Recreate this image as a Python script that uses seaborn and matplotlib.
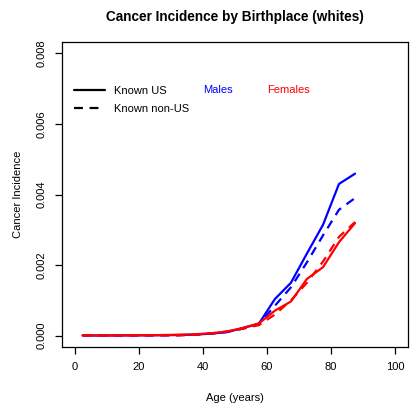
import numpy as np
import pandas as pd
import matplotlib
matplotlib.use("Agg")
import matplotlib.pyplot as plt
import seaborn as sns
from matplotlib.lines import Line2D

ages = [2.5, 7.5, 12.5, 17.5, 22.5, 27.5, 32.5, 37.5, 42.5, 47.5,
        52.5, 57.5, 62.5, 67.5, 72.5, 77.5, 82.5, 87.5]
us_males = [0.00001, 0.000005, 0.000008, 0.00001, 0.000012, 0.000015, 0.00002, 0.00003,
            0.00006, 0.0001, 0.00022, 0.00034, 0.00104, 0.0015, 0.00233, 0.00314, 0.0043, 0.00459]
nonus_males = [0.000008, 0.000005, 0.000006, 0.000008, 0.00001, 0.000012, 0.000015, 0.00003,
               0.00006, 0.00011, 0.0002, 0.00033, 0.00085, 0.00137, 0.00208, 0.00284, 0.00357, 0.0039]
us_females = [0.00001, 0.000006, 0.000008, 0.00001, 0.000015, 0.00002, 0.00003, 0.00004,
              0.00007, 0.00012, 0.00022, 0.00035, 0.00071, 0.00097, 0.00161, 0.00194, 0.00265, 0.00319]
nonus_females = [0.000008, 0.000005, 0.000006, 0.000008, 0.00001, 0.000012, 0.000012, 0.00003,
                 0.00006, 0.00012, 0.0002, 0.0003, 0.0006, 0.001, 0.0015, 0.0021, 0.0028, 0.00322]

x_ticks = [0, 20, 40, 60, 80, 100]
y_ticks = [0.000, 0.002, 0.004, 0.006, 0.008]

rows = []
for sex, birth, vals in [("Males", "Known US", us_males), ("Males", "Known non-US", nonus_males),
                         ("Females", "Known US", us_females), ("Females", "Known non-US", nonus_females)]:
    for a, v in zip(ages, vals):
        rows.append({"Age": a, "Incidence": v, "Sex": sex, "Birth": birth})
df = pd.DataFrame(rows)

sns.set_theme(style="ticks")
plt.rcParams['font.family'] = ['Liberation Sans', 'DejaVu Sans']
plt.rcParams['text.color'] = 'black'
plt.rcParams['axes.labelcolor'] = 'black'

fig = plt.figure(figsize=(4.12, 4.04), dpi=100)
ax = fig.add_axes([0.150, 0.141, 0.840, 0.755])

sns.lineplot(data=df, x="Age", y="Incidence", hue="Sex", style="Birth",
             palette={"Males": "#0000FF", "Females": "#FF0000"},
             dashes={"Known US": "", "Known non-US": (4, 3)},
             hue_order=["Males", "Females"], style_order=["Known US", "Known non-US"],
             linewidth=1.6, ax=ax, legend=False, estimator=None)

ax.set_xlim(-4, 104)
ax.set_ylim(-0.00032, 0.00832)
ax.set_xticks(x_ticks)
ax.set_xticklabels([str(t) for t in x_ticks])
ax.set_yticks(y_ticks)
ax.set_yticklabels([f"{t:.3f}" for t in y_ticks], rotation=90, va="center")
for s in ax.spines.values():
    s.set_color("black")
    s.set_linewidth(0.9)
ax.tick_params(direction="out", length=5, width=0.9, colors="black", labelcolor="black",
               labelsize=8, pad=6)
ax.set_xlabel("Age (years)", fontsize=8, labelpad=15, color="black")
ax.set_ylabel("Cancer Incidence", fontsize=8, labelpad=10, color="black")
ax.set_title("Cancer Incidence by Birthplace (whites)", fontsize=9.8, fontweight="bold",
             pad=15, color="black")

handles = [Line2D([], [], color="black", lw=1.6),
           Line2D([], [], color="black", lw=1.6, dashes=(4, 3))]
ax.legend(handles, ["Known US", "Known non-US"], loc="upper left",
          bbox_to_anchor=(0.012, 0.882), frameon=False, fontsize=8,
          handlelength=2.8, handletextpad=0.8, labelspacing=0.75, borderaxespad=0.3)
ax.text(0.451, 0.843, "Males", color="#0000FF", fontsize=8, ha="center", va="center", transform=ax.transAxes)
ax.text(0.656, 0.843, "Females", color="#FF0000", fontsize=8, ha="center", va="center", transform=ax.transAxes)

fig.savefig("out.png", dpi=100)
